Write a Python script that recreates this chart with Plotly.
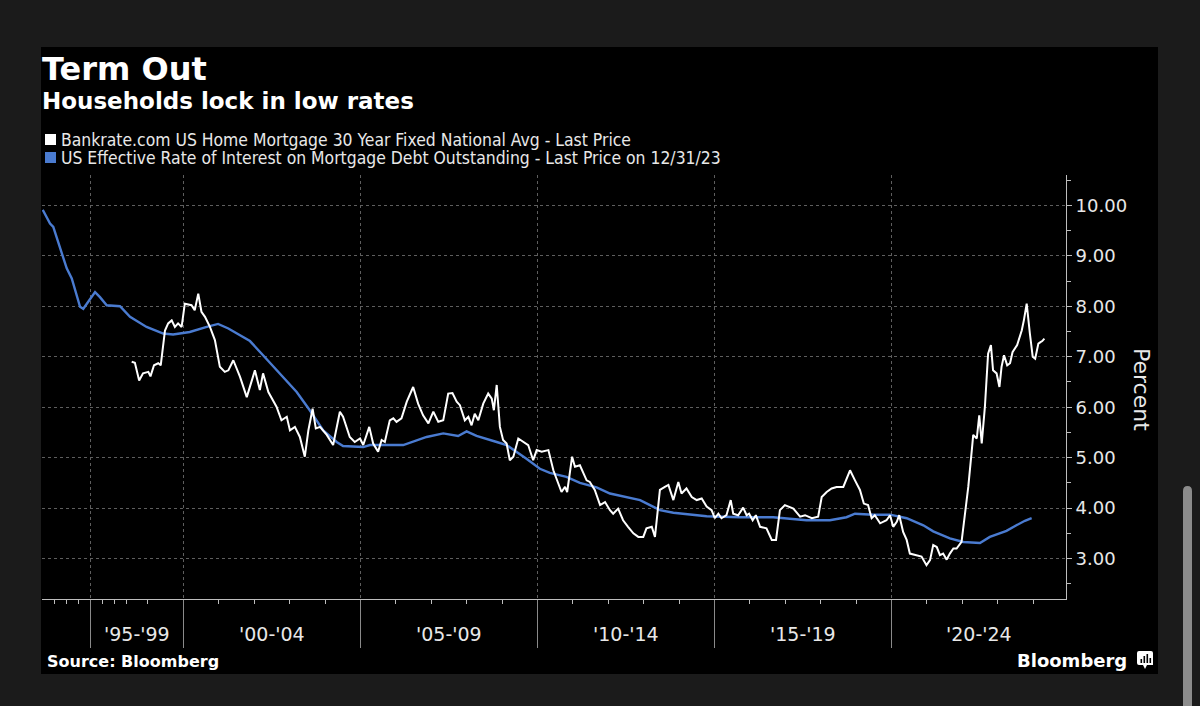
import numpy as np
import plotly.graph_objects as go

# ---------------- data ----------------
blue_years = [1991.06, 1991.67, 1991.94, 1992.78, 1993.06, 1993.48, 1994.17, 1994.44, 1994.86,
              1995.42, 1995.83, 1996.39, 1997.50, 1998.38, 1998.96, 1999.43, 1999.71, 2000.18,
              2000.66, 2000.98, 2001.27, 2001.88, 2002.25, 2002.73, 2003.20, 2003.57, 2003.95,
              2004.33, 2004.51, 2005.08, 2005.27, 2006.21, 2006.87, 2007.34, 2007.76, 2008.00,
              2008.28, 2008.85, 2009.13, 2009.69, 2010.07, 2010.35, 2010.82, 2011.20, 2011.67,
              2012.05, 2012.52, 2012.90, 2013.18, 2013.46, 2013.84, 2014.31, 2014.78, 2015.72,
              2016.66, 2017.60, 2018.26, 2018.73, 2018.97, 2019.49, 2019.96, 2020.43, 2020.90,
              2021.18, 2021.65, 2022.03, 2022.50, 2022.78, 2023.25, 2023.53, 2023.77, 2023.96]
blue_vals = [9.91, 9.64, 9.57, 8.98, 8.75, 8.55, 7.99, 7.95, 8.09,
             8.28, 8.18, 8.02, 8.00, 7.79, 7.59, 7.46, 7.44, 7.49,
             7.59, 7.65, 7.56, 7.31, 7.03, 6.67, 6.30, 5.94, 5.54,
             5.31, 5.23, 5.21, 5.25, 5.25, 5.41, 5.48, 5.43, 5.52,
             5.43, 5.31, 5.25, 4.98, 4.78, 4.70, 4.62, 4.50, 4.41,
             4.29, 4.22, 4.16, 4.06, 3.96, 3.91, 3.88, 3.84, 3.82,
             3.82, 3.76, 3.76, 3.82, 3.89, 3.87, 3.87, 3.80, 3.66,
             3.54, 3.40, 3.33, 3.31, 3.43, 3.55, 3.66, 3.75, 3.80]

white_years = [1998.54, 1998.63, 1998.75, 1998.86, 1999.01, 1999.07, 1999.17, 1999.29, 1999.36,
               1999.48, 1999.57, 1999.67, 1999.76, 1999.85, 1999.95, 2000.04, 2000.23, 2000.32,
               2000.42, 2000.51, 2000.61, 2000.75, 2000.89, 2001.03, 2001.17, 2001.27, 2001.41,
               2001.60, 2001.79, 2002.02, 2002.16, 2002.25, 2002.40, 2002.63, 2002.77, 2002.92,
               2003.01, 2003.15, 2003.29, 2003.43, 2003.53, 2003.65, 2003.74, 2003.86, 2004.05,
               2004.23, 2004.42, 2004.51, 2004.70, 2004.84, 2004.99, 2005.08, 2005.25, 2005.36,
               2005.50, 2005.60, 2005.69, 2005.83, 2005.93, 2006.02, 2006.16, 2006.31, 2006.49,
               2006.63, 2006.77, 2006.92, 2007.06, 2007.20, 2007.34, 2007.48, 2007.60, 2007.72,
               2007.81, 2007.95, 2008.05, 2008.14, 2008.23, 2008.33, 2008.47, 2008.61, 2008.71,
               2008.77, 2008.85, 2008.94, 2009.03, 2009.13, 2009.22, 2009.32, 2009.46, 2009.60,
               2009.74, 2009.88, 2009.98, 2010.12, 2010.31, 2010.45, 2010.59, 2010.68, 2010.78,
               2010.84, 2010.98, 2011.06, 2011.20, 2011.39, 2011.48, 2011.62, 2011.77, 2011.91,
               2012.05, 2012.14, 2012.28, 2012.42, 2012.56, 2012.71, 2012.85, 2012.99, 2013.08,
               2013.23, 2013.32, 2013.38, 2013.46, 2013.60, 2013.70, 2013.84, 2013.98, 2014.07,
               2014.21, 2014.36, 2014.50, 2014.64, 2014.78, 2014.92, 2015.01, 2015.11, 2015.20,
               2015.34, 2015.46, 2015.53, 2015.67, 2015.81, 2015.91, 2015.98, 2016.08, 2016.17,
               2016.29, 2016.47, 2016.62, 2016.74, 2016.85, 2016.99, 2017.23, 2017.42, 2017.56,
               2017.75, 2017.93, 2018.03, 2018.17, 2018.31, 2018.45, 2018.64, 2018.83, 2018.97,
               2019.11, 2019.22, 2019.34, 2019.44, 2019.53, 2019.68, 2019.86, 2019.96, 2020.05,
               2020.15, 2020.22, 2020.33, 2020.43, 2020.52, 2020.71, 2020.85, 2020.99, 2021.09,
               2021.18, 2021.28, 2021.37, 2021.46, 2021.56, 2021.65, 2021.75, 2021.84, 2021.98,
               2022.08, 2022.17, 2022.27, 2022.31, 2022.41, 2022.48, 2022.55, 2022.64, 2022.73,
               2022.81, 2022.87, 2022.97, 2023.05, 2023.11, 2023.18, 2023.27, 2023.35, 2023.42,
               2023.55, 2023.68, 2023.74, 2023.82, 2023.91, 2023.99, 2024.06, 2024.15, 2024.21,
               2024.26, 2024.32]
white_vals = [6.90, 6.88, 6.53, 6.67, 6.70, 6.61, 6.83, 6.87, 6.83,
              7.52, 7.66, 7.72, 7.59, 7.66, 7.59, 8.05, 8.02, 7.92,
              8.25, 7.89, 7.79, 7.59, 7.33, 6.80, 6.70, 6.73, 6.93,
              6.60, 6.20, 6.73, 6.34, 6.67, 6.30, 6.01, 5.74, 5.81,
              5.54, 5.61, 5.41, 5.02, 5.54, 5.97, 5.58, 5.61, 5.45,
              5.25, 5.91, 5.81, 5.41, 5.31, 5.38, 5.25, 5.61, 5.28,
              5.12, 5.35, 5.31, 5.74, 5.78, 5.71, 5.78, 6.11, 6.40,
              6.07, 5.84, 5.68, 5.91, 5.71, 5.74, 6.27, 6.28, 6.11,
              6.04, 5.74, 5.81, 5.64, 5.87, 5.74, 6.07, 6.27, 6.17,
              5.94, 6.44, 5.61, 5.35, 5.28, 4.95, 5.02, 5.38, 5.31,
              5.25, 4.95, 5.15, 5.12, 5.15, 4.75, 4.49, 4.32, 4.42,
              4.32, 5.02, 4.82, 4.85, 4.55, 4.52, 4.36, 4.06, 4.12,
              3.96, 3.89, 3.99, 3.76, 3.63, 3.50, 3.43, 3.43, 3.60,
              3.63, 3.43, 3.89, 4.36, 4.42, 4.46, 4.16, 4.52, 4.29,
              4.39, 4.22, 4.16, 4.19, 4.03, 3.96, 3.80, 3.89, 3.80,
              3.86, 4.16, 3.89, 3.86, 4.01, 3.86, 3.89, 3.76, 3.86,
              3.63, 3.60, 3.37, 3.37, 3.96, 4.06, 3.99, 3.83, 3.86,
              3.80, 3.83, 4.22, 4.32, 4.39, 4.42, 4.42, 4.75, 4.55,
              4.36, 4.09, 4.06, 3.80, 3.86, 3.70, 3.76, 3.86, 3.63,
              3.73, 3.86, 3.53, 3.37, 3.10, 3.07, 3.04, 2.87, 2.97,
              3.27, 3.23, 3.07, 3.10, 2.98, 3.10, 3.20, 3.20, 3.33,
              3.89, 4.42, 5.15, 5.45, 5.38, 5.84, 5.28, 6.01, 7.06,
              7.23, 6.73, 6.67, 6.40, 6.80, 7.03, 6.83, 6.87, 7.09,
              7.23, 7.52, 7.72, 8.05, 7.46, 7.00, 6.96, 7.26, 7.29,
              7.31, 7.36]

period_starts = [1995, 2000, 2005, 2010, 2015, 2020]
period_labels = ["'95-'99", "'00-'04", "'05-'09", "'10-'14", "'15-'19", "'20-'24"]
minor_years = list(range(1992, 2025))
y_ticks = [3, 4, 5, 6, 7, 8, 9, 10]
y_minor = [2.5, 3.5, 4.5, 5.5, 6.5, 7.5, 8.5, 9.5, 10.5]

title = "Term Out"
subtitle = "Households lock in low rates"
legend_white = "Bankrate.com US Home Mortgage 30 Year Fixed National Avg - Last Price"
legend_blue = "US Effective Rate of Interest on Mortgage Debt Outstanding - Last Price on 12/31/23"
source = "Source: Bloomberg"

# ---------------- Bloomberg-style compressed time scale ----------------
# sparse (quarterly-only) early years are compressed, as in the terminal chart
YEAR_BP = [1991.0, 1998.0, 1998.54, 2030.0]
UNIT_BP = [0.0, 2.373, 2.534, 33.997]


def tscale(years):
    return np.interp(np.asarray(years, dtype=float), YEAR_BP, UNIT_BP)


X_MIN, X_MAX = 0.0, 28.927
Y_MIN, Y_MAX = 2.2, 10.6

WHITE = "#ffffff"
BLUE = "#4a7bd0"
AXIS = "#bdbdbd"
GRID = "#5e5e5e"
TXT = "#e8e8e8"
OUTER = "#1b1b1b"

W, H = 1200, 706
L, R, T, B = 42, 1066, 175, 599


def px(x):
    return (x - L) / (R - L)


def py(y):
    return (B - y) / (B - T)


fig = go.Figure()
fig.add_trace(go.Scatter(x=tscale(blue_years), y=blue_vals, mode="lines",
                         line=dict(color=BLUE, width=2.4), hoverinfo="skip"))
fig.add_trace(go.Scatter(x=tscale(white_years), y=white_vals, mode="lines",
                         line=dict(color=WHITE, width=2), hoverinfo="skip"))

shapes = []
# black panel
shapes.append(dict(type="rect", xref="paper", yref="paper", x0=px(41), x1=px(1158),
                   y0=py(674), y1=py(47), fillcolor="#000000", line=dict(width=0), layer="below"))
# scrollbar
shapes.append(dict(type="path", xref="paper", yref="paper",
                   path=f"M {px(1183)} {py(710)} L {px(1183)} {py(491)} Q {px(1183)} {py(486)} {px(1187.5)} {py(486)} "
                        f"Q {px(1192)} {py(486)} {px(1192)} {py(491)} L {px(1192)} {py(710)} Z",
                   fillcolor="#8c8c8c", line=dict(width=0), layer="above"))
# legend squares
shapes.append(dict(type="rect", xref="paper", yref="paper", x0=px(45), x1=px(56), y0=py(145), y1=py(134),
                   fillcolor=WHITE, line=dict(width=0)))
shapes.append(dict(type="rect", xref="paper", yref="paper", x0=px(45), x1=px(56), y0=py(163), y1=py(152),
                   fillcolor=BLUE, line=dict(width=0)))
# Bloomberg icon
shapes.append(dict(type="path", xref="paper", yref="paper",
                   path=f"M {px(1139)} {py(651)} L {px(1151)} {py(651)} Q {px(1153)} {py(651)} {px(1153)} {py(653)} "
                        f"L {px(1153)} {py(665)} L {px(1147)} {py(665)} L {px(1145)} {py(669)} L {px(1143)} {py(665)} "
                        f"L {px(1139)} {py(665)} Q {px(1137)} {py(665)} {px(1137)} {py(663)} L {px(1137)} {py(653)} "
                        f"Q {px(1137)} {py(651)} {px(1139)} {py(651)} Z",
                   fillcolor=WHITE, line=dict(width=0)))
for bx, btop in [(1140.5, 659), (1143.5, 656), (1146.5, 654), (1149.5, 658)]:
    shapes.append(dict(type="rect", xref="paper", yref="paper", x0=px(bx), x1=px(bx + 1.6),
                       y0=py(663), y1=py(btop), fillcolor="#000000", line=dict(width=0)))

annotations = []
annotations.append(dict(text=title, xref="paper", yref="paper", x=px(40), y=py(69),
                        xanchor="left", yanchor="middle", showarrow=False,
                        font=dict(family="DejaVu Sans", size=32, color=WHITE, weight="bold")))
annotations.append(dict(text=subtitle, xref="paper", yref="paper", x=px(40), y=py(101),
                        xanchor="left", yanchor="middle", showarrow=False,
                        font=dict(family="DejaVu Sans", size=23, color=WHITE, weight="bold")))
for txt, yy in [(legend_white, 140), (legend_blue, 158)]:
    annotations.append(dict(text=txt, xref="paper", yref="paper", x=px(59), y=py(yy),
                            xanchor="left", yanchor="middle", showarrow=False,
                            font=dict(family="DejaVu Sans Condensed, DejaVu Sans", size=17.4, color=TXT)))
# period labels
starts_u = list(tscale(period_starts))
ends_u = starts_u[1:] + [X_MAX]
for s, e, lab in zip(starts_u, ends_u, period_labels):
    annotations.append(dict(text=lab, xref="x", yref="paper", x=(s + e) / 2, y=py(634),
                            xanchor="center", yanchor="middle", showarrow=False,
                            font=dict(family="DejaVu Sans", size=19, color=TXT)))
annotations.append(dict(text="Percent", xref="paper", yref="paper", x=px(1142), y=py(389),
                        xanchor="center", yanchor="middle", textangle=90, showarrow=False,
                        font=dict(family="DejaVu Sans", size=22, color=TXT)))
annotations.append(dict(text=source, xref="paper", yref="paper", x=px(45), y=py(661),
                        xanchor="left", yanchor="middle", showarrow=False,
                        font=dict(family="DejaVu Sans", size=16, color=WHITE, weight="bold")))
annotations.append(dict(text="Bloomberg", xref="paper", yref="paper", x=px(1129), y=py(660),
                        xanchor="right", yanchor="middle", showarrow=False,
                        font=dict(family="DejaVu Sans", size=18, color=WHITE, weight="bold")))

fig.update_layout(
    width=W, height=H,
    margin=dict(l=L, r=W - R, t=T, b=H - B, pad=0),
    paper_bgcolor=OUTER, plot_bgcolor="#000000",
    showlegend=False,
    shapes=shapes, annotations=annotations,
    xaxis=dict(range=[X_MIN, X_MAX], showline=True, linecolor=AXIS, linewidth=1,
               tickmode="array", tickvals=starts_u, ticks="outside", ticklen=48,
               tickcolor="#8a8a8a", tickwidth=1, showticklabels=False,
               showgrid=True, gridcolor=GRID, griddash="dot", gridwidth=1, zeroline=False,
               minor=dict(tickmode="array", tickvals=list(tscale(minor_years)), ticks="outside",
                          ticklen=4, tickcolor=AXIS, showgrid=False)),
    yaxis=dict(range=[Y_MIN, Y_MAX], side="right", showline=True, linecolor=AXIS, linewidth=1,
               tickmode="array", tickvals=y_ticks, tickformat=".2f", ticks="outside",
               ticklen=5, tickcolor=AXIS, showgrid=True, gridcolor=GRID, griddash="dot",
               gridwidth=1, zeroline=False,
               tickfont=dict(family="DejaVu Sans", size=18, color=TXT),
               minor=dict(tickmode="array", tickvals=y_minor, ticks="outside", ticklen=4,
                          tickcolor=AXIS, showgrid=False)),
)

fig.write_html(
    "out.html",
    config={"displayModeBar": False},
    post_script="document.body.style.margin='0';document.body.style.background='" + OUTER + "';"
                "document.documentElement.style.overflow='hidden';",
)
